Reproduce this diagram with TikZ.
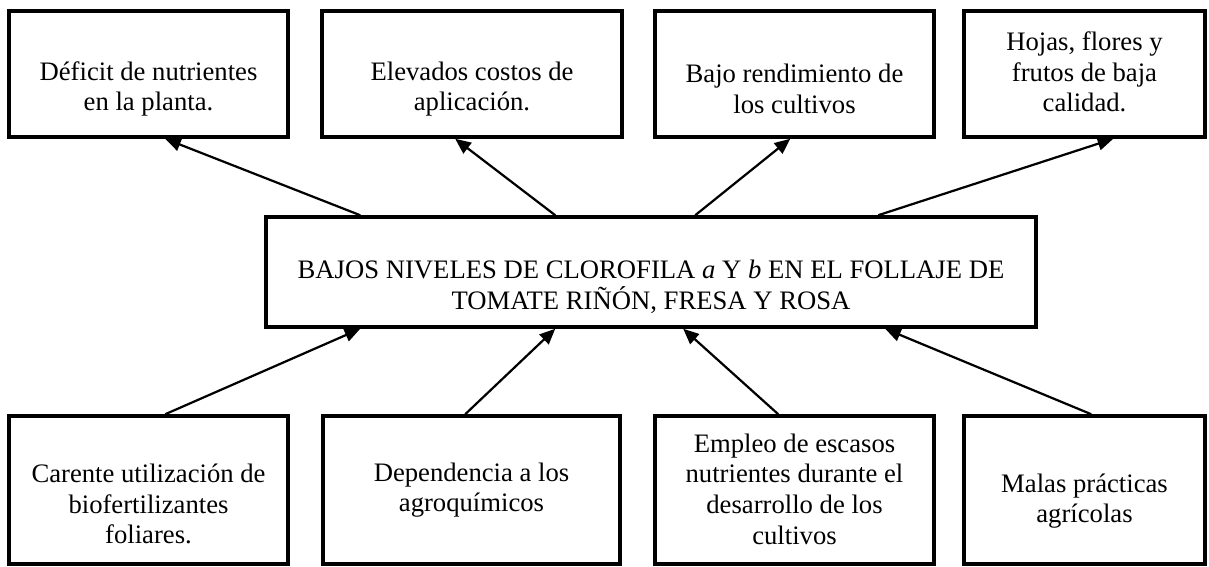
\documentclass[tikz,border=0pt]{standalone}
\usepackage{fontspec}
\setmainfont{Liberation Serif}
\usetikzlibrary{arrows.meta, calc}

\begin{document}
\begin{tikzpicture}[x=0.45pt, y=-0.45pt, >={Triangle[length=7pt,width=6pt]}]
\tikzset{ box/.style 2 args={draw, line width=1.6pt, inner sep=0pt,
                        minimum width=#1*0.45pt, minimum height=#2*0.45pt},
          txt/.style={align=center, font=\fontsize{12}{13.8}\selectfont},
          link/.style={->, line width=1pt} };

\useasboundingbox (0,0) rectangle (1209,566);

% efectos
\node[box={279}{126}] (E1) at (148.5,74) {};
\node[box={300}{126}] (E2) at (472,74) {};
\node[box={279}{126}] (E3) at (794.5,74) {};
\node[box={241}{126}] (E4) at (1084.5,74) {};

\node[txt] (E1t) at (148.5,89) {Déficit de nutrientes\\en la planta.};
\node[txt] (E2t) at (472,89) {Elevados costos de\\aplicación.};
\node[txt] (E3t) at (794.5,89) {Bajo rendimiento de\\los cultivos};
\node[txt] (E4t) at (1084.5,72) {Hojas, flores y\\frutos de baja\\calidad.};

% problema
\node[box={770}{110}] (P) at (651,272) {};
\node[txt] (Pt) at (651,287) {BAJOS NIVELES DE CLOROFILA \textit{a} Y \textit{b} EN EL FOLLAJE DE\\TOMATE RIÑÓN, FRESA Y ROSA};

% causas
\node[box={279}{148}] (K1) at (148.5,490) {};
\node[box={297}{148}] (K2) at (471.5,490) {};
\node[box={279}{148}] (K3) at (794.5,490) {};
\node[box={241}{148}] (K4) at (1084.5,490) {};

\node[txt] (K1t) at (148.5,504) {Carente utilización de\\biofertilizantes\\foliares.};
\node[txt] (K2t) at (471.5,490) {Dependencia a los\\agroquímicos};
\node[txt] (K3t) at (794.5,489) {Empleo de escasos\\nutrientes durante el\\desarrollo de los\\cultivos};
\node[txt] (K4t) at (1084.5,501) {Malas prácticas\\agrícolas};

% flechas
\draw[link] ($(P.north west)+(96,0)$) -- ($(E1.south west)+(158,0)$);
\draw[link] ($(P.north west)+(291,0)$) -- ($(E2.south west)+(135,0)$);
\draw[link] ($(P.north west)+(431,0)$) -- ($(E3.south west)+(137,0)$);
\draw[link] ($(P.north west)+(614,0)$) -- ($(E4.south west)+(151,0)$);

\draw[link] ($(K1.north west)+(158,0)$) -- ($(P.south west)+(96,0)$);
\draw[link] ($(K2.north west)+(144,0)$) -- ($(P.south west)+(291,0)$);
\draw[link] ($(K3.north west)+(125,0)$) -- ($(P.south west)+(419,0)$);
\draw[link] ($(K4.north west)+(129,0)$) -- ($(P.south west)+(621,0)$);

\end{tikzpicture}
\end{document}
